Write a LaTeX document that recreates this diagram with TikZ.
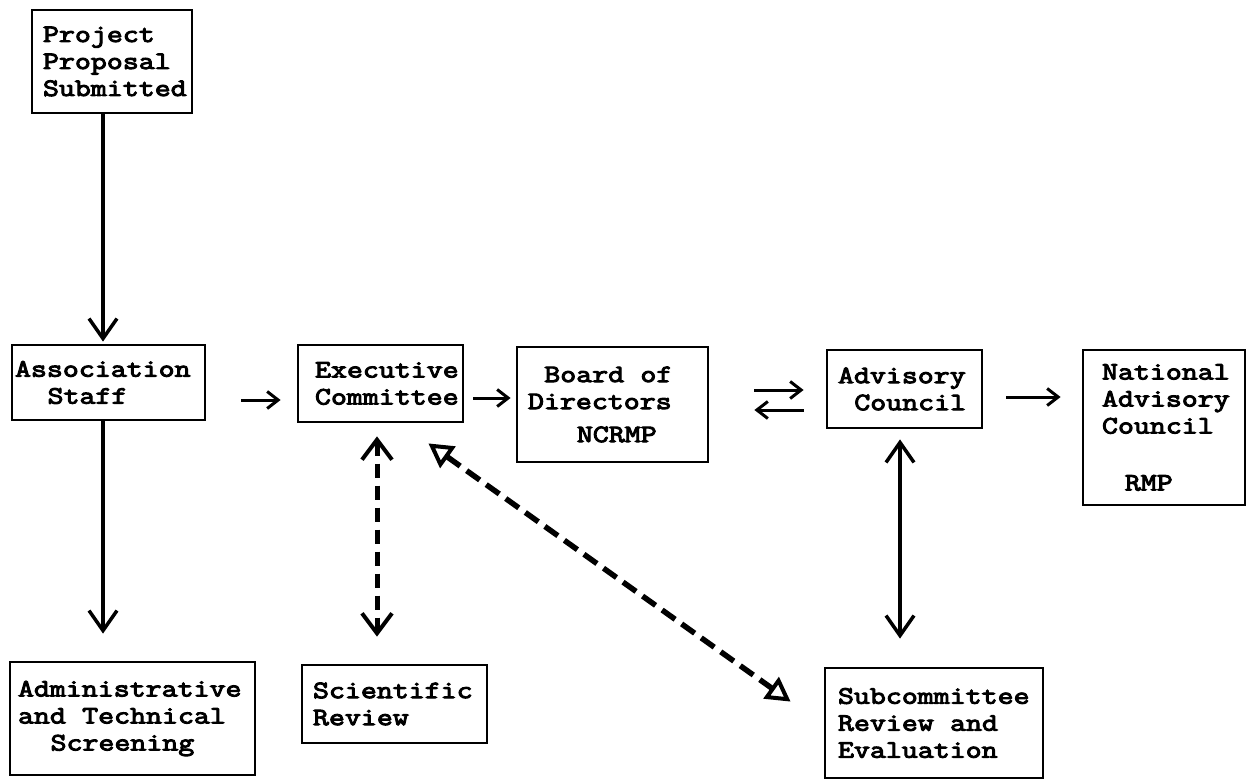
\documentclass[tikz,border=0pt]{standalone}
\usepackage{fontspec}
\newfontfamily\tw{Latin Modern Mono}[FakeStretch=1.24, FakeBold=4]
\newcommand\chs[1]{\hspace*{#1\dimexpr 16.3pt\relax}}
\usetikzlibrary{arrows.meta}
\begin{document}
\begin{tikzpicture}[x=1pt,y=-1pt,
  box/.style={draw, line width=2.8pt, inner ysep=0pt, align=left,
    font=\tw\fontsize{25}{27}\selectfont},
  bigarrow/.style={line width=3.5pt, -{Straight Barb[length=20pt,width=28pt]}},
  bigdouble/.style={line width=3.5pt, {Straight Barb[length=20pt,width=28pt]}-{Straight Barb[length=20pt,width=28pt]}},
  dashdouble/.style={line width=5pt, dash pattern=on 14pt off 8pt, {Straight Barb[length=20pt,width=30pt,line width=4pt]}-{Straight Barb[length=20pt,width=30pt,line width=4pt]}},
  diagdouble/.style={line width=5.5pt, dash pattern=on 16pt off 8pt, {Triangle[open,length=24pt,width=26pt,line width=4pt]}-{Triangle[open,length=24pt,width=26pt,line width=4pt]}},
  smallarrow/.style={line width=3pt, -{Straight Barb[length=11pt,width=17pt]}}
]
\useasboundingbox[fill=white] (0,0) rectangle (1250,779);

\node[box, inner xsep=11pt, text width=138pt, minimum height=103pt] (proj) at (112,61.5) {Project\\Proposal\\Submitted};
\node[box, inner xsep=3pt, text width=187pt, minimum height=75pt] (assoc) at (108.5,382.5) {Association\\\chs{2}Staff};
\node[box, inner xsep=17pt, text width=131pt, minimum height=77pt] (exec) at (380.5,383.5) {Executive\\Committee};
\node[box, inner xsep=11pt, text width=169pt, minimum height=115pt] (board) at (612.5,404.5) {\chs{1}Board\chs{1}of\\Directors\\[6pt]\chs{3}NCRMP};
\node[box, inner xsep=11pt, text width=133pt, minimum height=78pt] (adv) at (904.5,389) {Advisory\\\chs{1}Council};
\node[box, inner xsep=19pt, text width=124pt, minimum height=155pt] (nat) at (1164,427.5) {National\\Advisory\\Council\\[30pt]\chs{1.4}RMP};
\node[box, inner xsep=8pt, text width=229pt, minimum height=113pt] (admin) at (132.5,718.5) {Administrative\\and\chs{1}Technical\\\chs{2}Screening};
\node[box, inner xsep=11pt, text width=163pt, minimum height=78pt] (sci) at (394.5,704) {Scientific\\Review};
\node[box, inner xsep=13pt, text width=192pt, minimum height=110pt] (sub) at (934,723) {Subcommittee\\Review\chs{1}and\\Evaluation};

\coordinate (ax) at (103,0);
\coordinate (dx) at (377,0);
\coordinate (vx) at (900,0);
\coordinate (h1) at (0,400);
\coordinate (h2) at (0,398);
\coordinate (h3) at (0,390);
\coordinate (h4) at (0,410);
\coordinate (h5) at (0,397);

\draw[bigarrow, shorten >=2pt] (proj.south -| ax) -- (assoc.north -| ax);
\draw[bigarrow, shorten >=27pt] (assoc.south -| ax) -- (admin.north -| ax);

\draw[smallarrow, shorten <=35pt, shorten >=16pt] (assoc.east |- h1) -- (exec.west |- h1);
\draw[smallarrow, shorten <=9pt, shorten >=5pt] (exec.east |- h2) -- (board.west |- h2);
\draw[smallarrow, shorten <=45pt, shorten >=22pt] (board.east |- h3) -- (adv.west |- h3);
\draw[smallarrow, shorten <=22pt, shorten >=45pt] (adv.west |- h4) -- (board.east |- h4);
\draw[smallarrow, shorten <=23pt, shorten >=21pt] (adv.east |- h5) -- (nat.west |- h5);

\draw[dashdouble, shorten <=13pt, shorten >=27pt] (exec.south -| dx) -- (sci.north -| dx);
\draw[diagdouble] ([xshift=-36pt,yshift=-20pt]exec.south east) -- ([xshift=-33pt,yshift=-35pt]sub.north west);
\draw[bigdouble, shorten <=10pt, shorten >=28pt] (adv.south -| vx) -- (sub.north -| vx);
\end{tikzpicture}
\end{document}
